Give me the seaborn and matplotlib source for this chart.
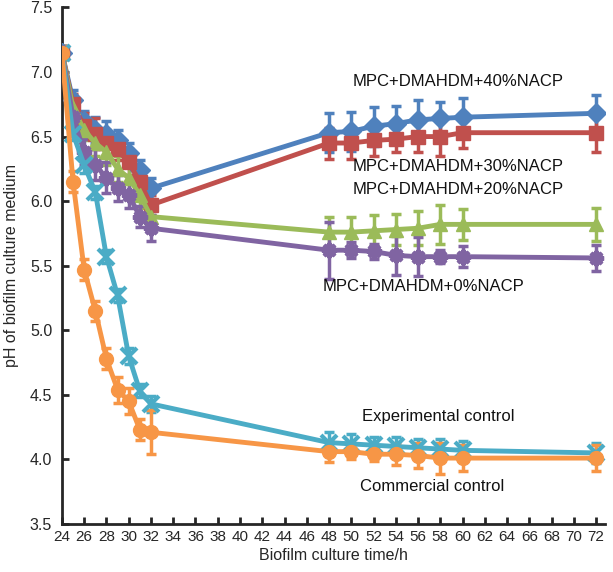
import numpy as np
import pandas as pd
import matplotlib
matplotlib.use("Agg")
import matplotlib.pyplot as plt
import seaborn as sns

# Biofilm culture time (h)
times = [24, 25, 26, 27, 28, 29, 30, 31, 32, 48, 50, 52, 54, 56, 58, 60, 72]

# pH values
nacp40 = [7.15, 6.78, 6.62, 6.55, 6.52, 6.47, 6.37, 6.24, 6.10,
          6.53, 6.54, 6.58, 6.60, 6.63, 6.64, 6.65, 6.68]
nacp40_err = [0.05, 0.08, 0.08, 0.10, 0.10, 0.08, 0.08, 0.08, 0.08,
              0.15, 0.15, 0.15, 0.14, 0.15, 0.13, 0.15, 0.14]

nacp30 = [7.15, 6.75, 6.58, 6.52, 6.45, 6.40, 6.30, 6.15, 5.97,
          6.45, 6.45, 6.47, 6.48, 6.50, 6.50, 6.53, 6.53]
nacp30_err = [0.05, 0.08, 0.10, 0.12, 0.10, 0.08, 0.10, 0.10, 0.08,
              0.12, 0.12, 0.12, 0.10, 0.12, 0.15, 0.12, 0.15]

nacp20 = [7.15, 6.72, 6.55, 6.45, 6.38, 6.25, 6.18, 6.05, 5.88,
          5.76, 5.76, 5.77, 5.78, 5.79, 5.82, 5.82, 5.82]
nacp20_err = [0.05, 0.06, 0.08, 0.10, 0.10, 0.10, 0.10, 0.10, 0.08,
              0.12, 0.12, 0.12, 0.12, 0.13, 0.15, 0.12, 0.13]

nacp0 = [7.15, 6.65, 6.38, 6.28, 6.18, 6.10, 6.05, 5.88, 5.79,
         5.62, 5.62, 5.61, 5.58, 5.57, 5.57, 5.57, 5.56]
nacp0_err = [0.05, 0.08, 0.10, 0.12, 0.12, 0.10, 0.10, 0.08, 0.10,
             0.22, 0.06, 0.06, 0.15, 0.15, 0.05, 0.08, 0.10]

exp_ctrl = [7.15, 6.52, 6.28, 6.07, 5.57, 5.27, 4.80, 4.53, 4.43,
            4.13, 4.12, 4.11, 4.10, 4.09, 4.08, 4.07, 4.05]
exp_ctrl_err = [0.05, 0.05, 0.06, 0.05, 0.05, 0.05, 0.06, 0.05, 0.06,
                0.08, 0.08, 0.06, 0.07, 0.07, 0.08, 0.07, 0.08]

com_ctrl = [7.15, 6.15, 5.47, 5.15, 4.78, 4.54, 4.45, 4.23, 4.21,
            4.06, 4.06, 4.04, 4.04, 4.03, 4.01, 4.01, 4.01]
com_ctrl_err = [0.05, 0.08, 0.08, 0.08, 0.08, 0.10, 0.10, 0.08, 0.17,
                0.08, 0.06, 0.05, 0.08, 0.10, 0.12, 0.10, 0.10]

groups = ["MPC+DMAHDM+40%NACP", "MPC+DMAHDM+30%NACP", "MPC+DMAHDM+20%NACP",
          "MPC+DMAHDM+0%NACP", "Experimental control", "Commercial control"]
values = [nacp40, nacp30, nacp20, nacp0, exp_ctrl, com_ctrl]
errors = [nacp40_err, nacp30_err, nacp20_err, nacp0_err, exp_ctrl_err, com_ctrl_err]
colors = ["#4F81BD", "#C0504D", "#9BBB59", "#8064A2", "#4BACC6", "#F79646"]
markers = ["D", "s", "^", (8, 2, 0), "x", "o"]

df = pd.DataFrame({
    "time": np.tile(times, len(groups)),
    "pH": np.concatenate(values),
    "err": np.concatenate(errors),
    "group": np.repeat(groups, len(times)),
})

sns.set_style("ticks")
plt.rcParams["font.family"] = ["Liberation Sans", "DejaVu Sans"]

fig = plt.figure(figsize=(6.13, 5.72), dpi=100)
ax = fig.add_axes([0.101, 0.084, 0.886, 0.903])

# draw order: controls first, then NACP groups on top
for i in [5, 4, 3, 2, 1, 0]:
    sub = df[df["group"] == groups[i]]
    ax.errorbar(sub["time"], sub["pH"], yerr=sub["err"], fmt="none",
                ecolor=colors[i], elinewidth=2.5, capsize=3.5, capthick=2.5,
                zorder=2 + i * 0.01)
    sns.lineplot(data=sub, x="time", y="pH", ax=ax, color=colors[i],
                 marker=markers[i], markersize=10 if i not in (3, 4) else 11,
                 markeredgecolor=colors[i], markeredgewidth=3 if i in (3, 4) else 1,
                 linewidth=3.5, errorbar=None, zorder=3 + i * 0.01)

labels = [(59.6, 6.93, groups[0]), (59.6, 6.27, groups[1]), (59.6, 6.09, groups[2]),
          (56.5, 5.34, groups[3]), (57.8, 4.33, groups[4]), (57.3, 3.79, groups[5])]
for x, y, t in labels:
    ax.text(x, y, t, ha="center", va="center", fontsize=12, color="#111111")

ax.set_xlim(24, 72.8)
ax.set_ylim(3.5, 7.5)
ax.set_xticks(range(24, 73, 2))
ax.set_yticks(np.arange(3.5, 7.51, 0.5))
ax.set_yticklabels([f"{v:.1f}" for v in np.arange(3.5, 7.51, 0.5)])
ax.tick_params(direction="in", length=5, width=2, labelsize=11.5)
ax.tick_params(axis="x", pad=4, labelsize=11)
ax.tick_params(axis="y", pad=7)
for s in ["left", "bottom"]:
    ax.spines[s].set_linewidth(2)
sns.despine(ax=ax)
ax.set_xlabel("Biofilm culture time/h", fontsize=11.5, labelpad=3)
ax.set_ylabel("pH of biofilm culture medium", fontsize=11.5, labelpad=8)

fig.savefig("out.png", dpi=100)
